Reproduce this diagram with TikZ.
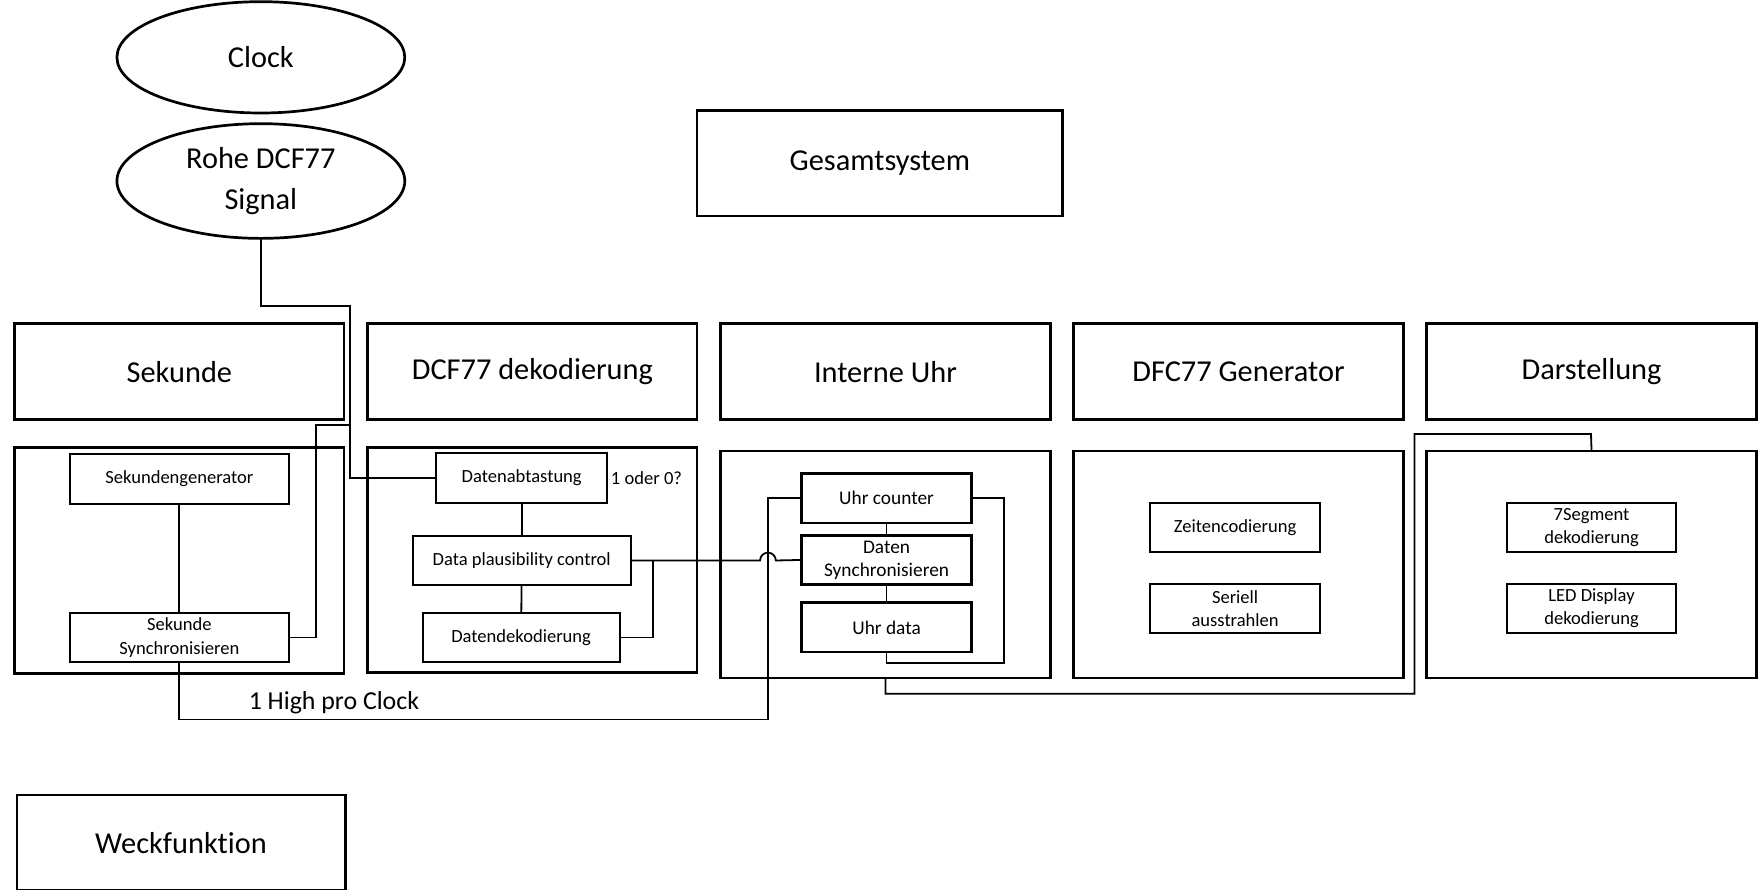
\documentclass[tikz,border=0pt]{standalone}
\usepackage{fontspec}
\setmainfont{Carlito}[Ligatures={NoCommon,NoRequired,NoContextual}]
\usetikzlibrary{shapes.geometric}
\tikzset{
  big/.style={draw, line width=1.2pt, inner sep=0pt, outer sep=0pt, align=center,
    font=\fontsize{13.5}{18}\selectfont},
  oval/.style={big, ellipse},
  cont/.style={draw, line width=1.2pt, inner sep=0pt, outer sep=0pt},
  small/.style={draw, line width=0.9pt, inner sep=0pt, outer sep=0pt, align=center,
    minimum width=75.5pt, minimum height=22pt, font=\fontsize{8.25}{10.3}\selectfont},
  conn/.style={line width=0.8pt},
  lbl/.style={inner sep=0pt}
}
\begin{document}
\begin{tikzpicture}[x=0.5pt, y=-0.5pt]
\clip (0,0) rectangle (1568,791);
\useasboundingbox (0,0) rectangle (1568,791);
\fill[white] (0,0) rectangle (1568,791);

% ellipses
\node[oval, minimum width=128pt, minimum height=49.5pt] (clock) at (232,51) {Clock};
\node[oval, minimum width=128pt, minimum height=51pt] (rohe) at (232,161) {Rohe DCF77\\Signal};

% Gesamtsystem
\node[big, minimum width=162.5pt, minimum height=47pt] (ges) at (782.5,145) {Gesamtsystem};

% header row
\node[big, minimum width=146.5pt, minimum height=42.5pt] (hsek) at (159.5,330.5) {Sekunde};
\node[big, minimum width=146.5pt, minimum height=42.5pt] (hdcf) at (473.5,330.5) {DCF77 dekodierung};
\node[big, minimum width=146.5pt, minimum height=42.5pt] (huhr) at (787.5,330.5) {Interne Uhr};
\node[big, minimum width=146.5pt, minimum height=42.5pt] (hgen) at (1101.5,330.5) {DFC77 Generator};
\node[big, minimum width=146.5pt, minimum height=42.5pt] (hdar) at (1415.5,330.5) {Darstellung};

% containers
\node[cont, minimum width=146.5pt, minimum height=100.5pt] (csek) at (159.5,498.5) {};
\node[cont, minimum width=146.5pt, minimum height=100pt] (cdcf) at (473.5,498) {};
\node[cont, minimum width=146.5pt, minimum height=101pt] (cuhr) at (787.5,502) {};
\node[cont, minimum width=146.5pt, minimum height=101pt] (cgen) at (1101.5,502) {};
\node[cont, minimum width=146.5pt, minimum height=101pt] (cdar) at (1415.5,502) {};

% Weckfunktion
\node[big, minimum width=146pt, minimum height=42.5pt] (weck) at (161,749.5) {Weckfunktion};

% inner boxes: Sekunde
\node[small, minimum width=97.5pt] (sgen) at (159.5,426) {Sekundengenerator};
\node[small, minimum width=97.5pt] (ssync) at (159.5,567) {Sekunde\\Synchronisieren};

% inner boxes: DCF77 dekodierung
\node[small, minimum width=76pt] (abt) at (464,425) {Datenabtastung};
\node[lbl, font=\fontsize{8.25}{10.3}\selectfont, anchor=west] (oder) at (543,425) {1 oder 0?};
\node[small, minimum width=97pt, minimum height=21.5pt] (dp) at (464,498.5) {Data plausibility control};
\node[small, minimum width=87.5pt] (dd) at (463.5,567) {Datendekodierung};

% inner boxes: Interne Uhr
\node[small, line width=1.1pt, font=\fontsize{8.6}{10.2}\selectfont] (uc) at (788.5,443) {Uhr counter};
\node[small, line width=1.3pt, font=\fontsize{8.6}{10.2}\selectfont] (dsync) at (788.5,498) {Daten\\Synchronisieren};
\node[small, line width=1.1pt, font=\fontsize{8.6}{10.2}\selectfont] (ud) at (788.5,558) {Uhr data};

% inner boxes: DFC77 Generator
\node[small] (zeit) at (1098.5,469) {Zeitencodierung};
\node[small] (ser) at (1098.5,541) {Seriell\\ausstrahlen};

% inner boxes: Darstellung
\node[small] (seg) at (1415.5,469) {7Segment\\dekodierung};
\node[small] (led) at (1415.5,541) {LED Display\\dekodierung};

% connectors
\draw[conn] (rohe.south) |- (311,272) |- (abt.west);
\draw[conn] (ssync.east) -| (281,378) -- (311,378);
\draw[conn] (sgen) -- (ssync);
\draw[conn] (ssync.south) |- (683,640) |- (uc.west);
\node[lbl, font=\fontsize{11.5}{14}\selectfont] (high) at (297,625) {1 High pro Clock};
\draw[conn] (abt) -- (dp);
\draw[conn] (dp) -- (dd);
\draw[conn] (dp.east) -- (676,498.5) arc[start angle=180, end angle=0, radius=3.5pt] -- (dsync.west);
\draw[conn] (dd.east) -| (581,498.5);
\draw[conn] (uc) -- (dsync);
\draw[conn] (dsync) -- (ud);
\draw[conn] (uc.east) -| (893,590) -| (ud.south);
\draw[conn] (cuhr.south) |- (1258,617) |- (1415,386) -- (cdar.north);
\end{tikzpicture}
\end{document}
